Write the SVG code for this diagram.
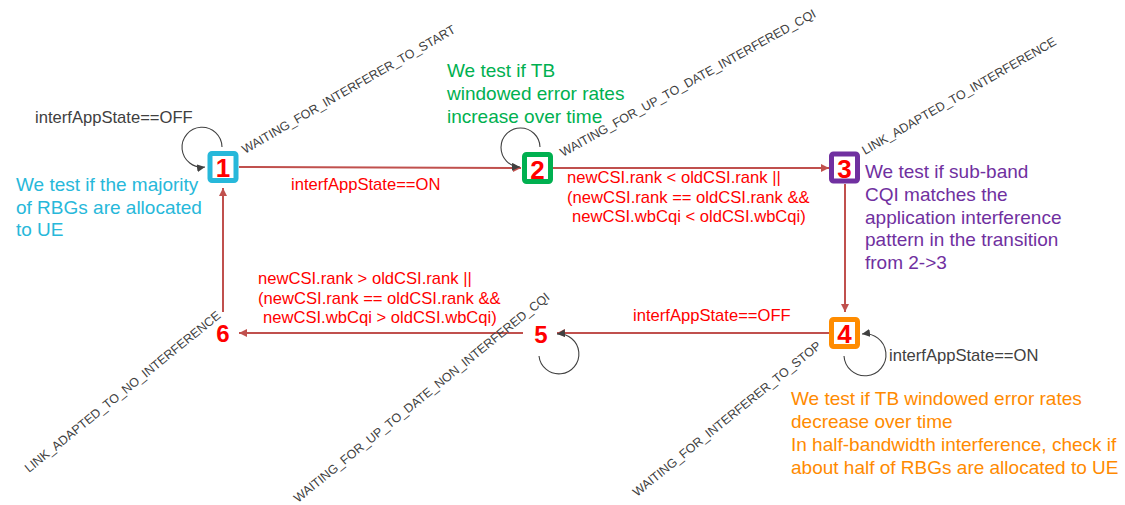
<svg xmlns="http://www.w3.org/2000/svg" width="1125" height="505" viewBox="0 0 1125 505">
<style>
text{font-family:"Liberation Sans",Arial,sans-serif}
.cond{font-size:16.6px;fill:#ff0000}
.condk{font-size:16.6px;fill:#404040}
.lbl{font-size:12.5px;fill:#404040}
.note{font-size:19px}
.box{fill:#fff;stroke-width:5}
.num{font-size:26px;font-weight:bold;fill:#ff0000;text-anchor:middle}
.numf{font-size:24px;font-weight:bold;fill:#ff0000;text-anchor:middle}
.edge{stroke:#c0504d;stroke-width:2;fill:none}
.loop{stroke:#404040;stroke-width:1.1;fill:none}
</style>
<defs>
<marker id="ar" markerUnits="userSpaceOnUse" markerWidth="9" markerHeight="8" refX="8" refY="4" orient="auto"><path d="M0,0 L8,4 L0,8 z" fill="#c0504d"/></marker>
<marker id="ak" markerUnits="userSpaceOnUse" markerWidth="9" markerHeight="8" refX="8" refY="4" orient="auto"><path d="M0,0 L8,4 L0,8 z" fill="#404040"/></marker>
</defs>
<rect width="1125" height="505" fill="#fff"/>
<g id="connectors">
<line class="edge" x1="239" y1="167" x2="521" y2="168" marker-end="url(#ar)"/>
<line class="edge" x1="553" y1="168" x2="829" y2="168" marker-end="url(#ar)"/>
<line class="edge" x1="845" y1="184" x2="845" y2="312" marker-end="url(#ar)"/>
<line class="edge" x1="829" y1="333" x2="557" y2="333" marker-end="url(#ar)"/>
<line class="edge" x1="523" y1="333" x2="239" y2="333" marker-end="url(#ar)"/>
<line class="edge" x1="223" y1="312" x2="223" y2="188" marker-end="url(#ar)"/>
<path class="loop" d="M222,147 A20,20 0 1 0 205,167" marker-end="url(#ak)"/>
<path class="loop" d="M540,147 A19.5,19.5 0 1 0 520,167" marker-end="url(#ak)"/>
<path class="loop" d="M844,356 A21,21 0 1 0 862,334" marker-end="url(#ak)"/>
<path class="loop" d="M539,356 A20,20 0 1 0 557,334" marker-end="url(#ak)"/>
<text class="condk" x="35" y="123">interfAppState==OFF</text>
<text class="cond" x="291" y="190">interfAppState==ON</text>
<text class="cond" x="567" y="183">newCSI.rank &lt; oldCSI.rank ||</text>
<text class="cond" x="567" y="202.5">(newCSI.rank == oldCSI.rank &amp;&amp;</text>
<text class="cond" x="572" y="222">newCSI.wbCqi &lt; oldCSI.wbCqi)</text>
<text class="cond" x="633" y="321">interfAppState==OFF</text>
<text class="condk" x="889" y="361">interfAppState==ON</text>
<text class="cond" x="258" y="284">newCSI.rank &gt; oldCSI.rank ||</text>
<text class="cond" x="258" y="303.5">(newCSI.rank == oldCSI.rank &amp;&amp;</text>
<text class="cond" x="263" y="323">newCSI.wbCqi &gt; oldCSI.wbCqi)</text>
</g>
<g id="node1">
<rect class="box" x="210" y="153.5" width="26" height="27" rx="2" stroke="#27b8da"/>
<text class="num" x="223" y="177">1</text>
<text class="lbl" transform="translate(245,154) rotate(-30)">WAITING_FOR_INTERFERER_TO_START</text>
<text class="note" fill="#27b8da"><tspan x="16" y="191">We test if the majority</tspan><tspan x="16" y="213.5">of RBGs are allocated</tspan><tspan x="16" y="236">to UE</tspan></text>
</g>
<g id="node2">
<rect class="box" x="524.5" y="154.5" width="26" height="27" rx="2" stroke="#00b050"/>
<text class="num" x="537.5" y="178.5">2</text>
<text class="lbl" transform="translate(563,157) rotate(-29)">WAITING_FOR_UP_TO_DATE_INTERFERED_CQI</text>
<text class="note" fill="#00b050"><tspan x="447" y="77">We test if TB</tspan><tspan x="447" y="100">windowed error rates</tspan><tspan x="447" y="123">increase over time</tspan></text>
</g>
<g id="node3">
<rect class="box" x="831.5" y="154" width="26" height="27" rx="2" stroke="#7030a0"/>
<text class="num" x="844.5" y="177.5">3</text>
<text class="lbl" transform="translate(865,155) rotate(-30)">LINK_ADAPTED_TO_INTERFERENCE</text>
<text class="note" fill="#7030a0"><tspan x="865" y="178.3">We test if sub-band</tspan><tspan x="865" y="201">CQI matches the</tspan><tspan x="865" y="223.7">application interference</tspan><tspan x="865" y="246.4">pattern in the transition</tspan><tspan x="865" y="269.1">from 2-&gt;3</tspan></text>
</g>
<g id="node4">
<rect class="box" x="831.5" y="319.5" width="26" height="27" rx="2" stroke="#ff8c00"/>
<text class="num" x="844.5" y="343">4</text>
<text class="lbl" transform="translate(637,497) rotate(-39)">WAITING_FOR_INTERFERER_TO_STOP</text>
<text class="note" fill="#ff8a00"><tspan x="791" y="405">We test if TB windowed error rates</tspan><tspan x="791" y="428">decrease over time</tspan><tspan x="791" y="451">In half-bandwidth interference, check if</tspan><tspan x="791" y="474">about half of RBGs are allocated to UE</tspan></text>
</g>
<g id="node5">
<text class="numf" x="541" y="343">5</text>
<text class="lbl" transform="translate(298,503) rotate(-39)">WAITING_FOR_UP_TO_DATE_NON_INTERFERED_CQI</text>
</g>
<g id="node6">
<text class="numf" x="223" y="342">6</text>
<text class="lbl" transform="translate(29,473) rotate(-39)">LINK_ADAPTED_TO_NO_INTERFERENCE</text>
</g>
</svg>
